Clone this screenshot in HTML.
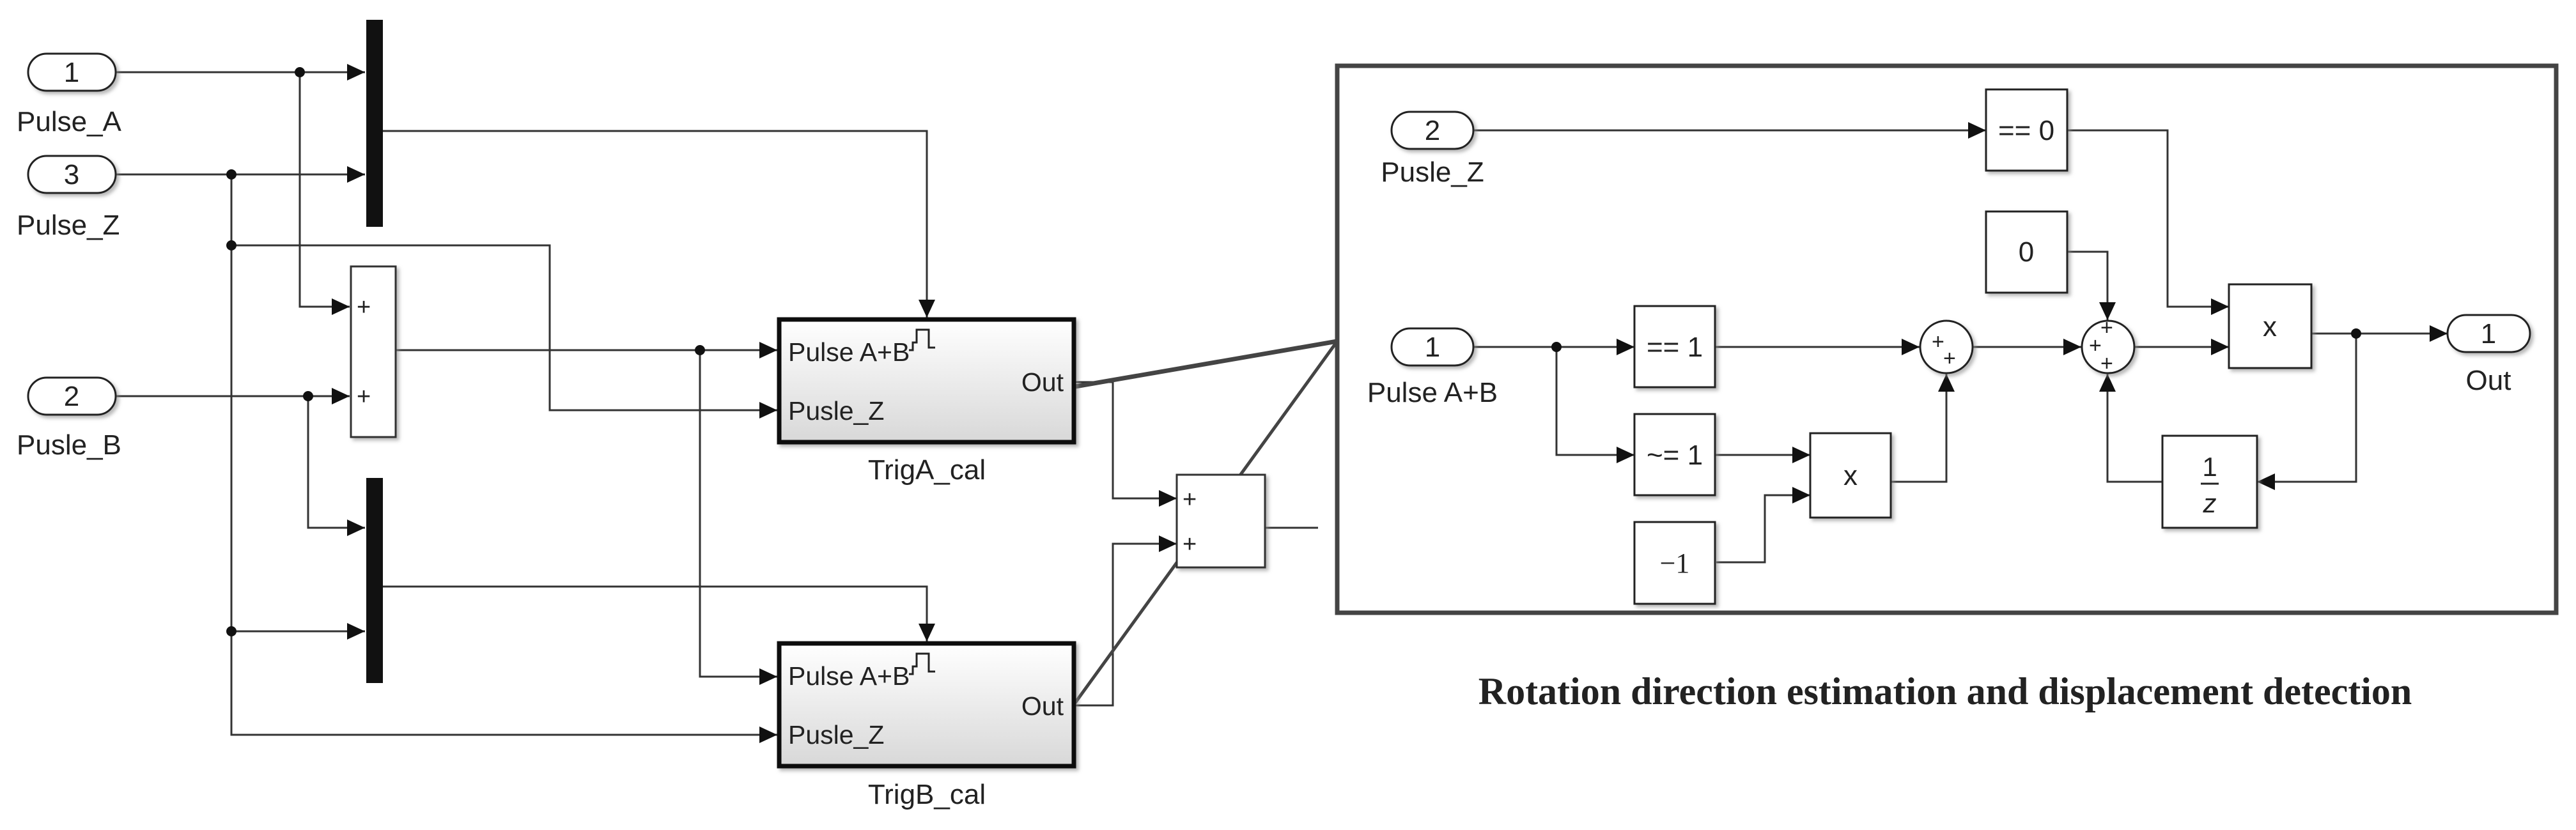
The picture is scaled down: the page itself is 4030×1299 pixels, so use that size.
<!DOCTYPE html>
<html><head><meta charset="utf-8"><style>
html,body{margin:0;padding:0;background:#fff;}
svg{display:block;}
text{font-family:"Liberation Sans",sans-serif;fill:#222;}
</style></head><body>
<svg width="4030" height="1299" viewBox="0 0 4030 1299" xmlns="http://www.w3.org/2000/svg">
<defs>
<marker id="a" markerUnits="userSpaceOnUse" markerWidth="30" markerHeight="30" refX="28" refY="13" orient="auto"><path d="M0,0 L28,13 L0,26 Z" fill="#111"/></marker>
<linearGradient id="g" x1="0" y1="0" x2="0" y2="1"><stop offset="0" stop-color="#fff"/><stop offset="1" stop-color="#d8d8d8"/></linearGradient>
<filter id="s" x="-10%" y="-10%" width="130%" height="130%"><feDropShadow dx="4" dy="4" stdDeviation="3" flood-color="#888" flood-opacity="0.6"/></filter>
</defs>
<g fill="none" stroke="#333" stroke-width="3">
<path d="M181,113 H571" marker-end="url(#a)"/>
<path d="M181,273 H571" marker-end="url(#a)"/>
<path d="M181,620 H547" marker-end="url(#a)"/>
<path d="M469,113 V480 H547" marker-end="url(#a)"/>
<path d="M362,273 V1150 H1216" marker-end="url(#a)"/>
<path d="M362,384 H860 V642 H1216" marker-end="url(#a)"/>
<path d="M362,988 H571" marker-end="url(#a)"/>
<path d="M482,620 V826 H571" marker-end="url(#a)"/>
<path d="M599,205 H1450 V497" marker-end="url(#a)"/>
<path d="M599,918 H1450 V1004" marker-end="url(#a)"/>
<path d="M619,548 H1216" marker-end="url(#a)"/>
<path d="M1095,548 V1059 H1216" marker-end="url(#a)"/>
<path d="M1682,598 H1741 V780 H1841" marker-end="url(#a)"/>
<path d="M1682,1104 H1741 V851 H1841" marker-end="url(#a)"/>
<path d="M1979,826 H2062"/>
<path d="M2305,204 H3107" marker-end="url(#a)"/>
<path d="M3234,204 H3391 V480 H3487" marker-end="url(#a)"/>
<path d="M2305,543 H2557" marker-end="url(#a)"/>
<path d="M2435,543 V712 H2557" marker-end="url(#a)"/>
<path d="M2683,543 H3003" marker-end="url(#a)"/>
<path d="M2683,712 H2832" marker-end="url(#a)"/>
<path d="M2685,880 H2761 V775 H2832" marker-end="url(#a)"/>
<path d="M2958,754 H3045 V585" marker-end="url(#a)"/>
<path d="M3085,543 H3256" marker-end="url(#a)"/>
<path d="M3234,394 H3297 V501" marker-end="url(#a)"/>
<path d="M3340,543 H3487" marker-end="url(#a)"/>
<path d="M3383,754 H3297 V585" marker-end="url(#a)"/>
<path d="M3616,522 H3829" marker-end="url(#a)"/>
<path d="M3686,522 V754 H3531" marker-end="url(#a)"/>
</g>
<path d="M1682,605 L2092,534" stroke="#444" stroke-width="7" fill="none"/>
<path d="M1682,1100 L2092,534" stroke="#444" stroke-width="5" fill="none"/>
<g fill="#111">
<circle cx="469" cy="113" r="8"/><circle cx="362" cy="273" r="8"/><circle cx="362" cy="384" r="8"/><circle cx="362" cy="988" r="8"/><circle cx="482" cy="620" r="8"/><circle cx="1095" cy="548" r="8"/>
<circle cx="2435" cy="543" r="8"/><circle cx="3686" cy="522" r="8"/>
</g>
<g stroke="#222" stroke-width="3" fill="#fff" filter="url(#s)">
<rect x="44" y="84" width="137" height="58" rx="29"/>
<rect x="44" y="244" width="137" height="58" rx="29"/>
<rect x="44" y="591" width="137" height="58" rx="29"/>
</g>
<g font-size="44" text-anchor="middle">
<text x="112" y="128">1</text><text x="112" y="288">3</text><text x="112" y="635">2</text>
</g>
<g font-size="44">
<text x="26" y="205">Pulse_A</text><text x="26" y="367">Pulse_Z</text><text x="26" y="711">Pusle_B</text>
</g>
<rect x="573" y="31" width="26" height="324" fill="#111"/>
<rect x="573" y="748" width="26" height="321" fill="#111"/>
<rect x="549" y="417" width="70" height="267" fill="#fff" stroke="#333" stroke-width="3" filter="url(#s)"/>
<g font-size="38"><text x="558" y="493">+</text><text x="558" y="633">+</text></g>
<rect x="1219" y="500" width="461" height="192" fill="url(#g)" stroke="#111" stroke-width="7" filter="url(#s)"/>
<rect x="1219" y="1007" width="461" height="192" fill="url(#g)" stroke="#111" stroke-width="7" filter="url(#s)"/>
<g font-size="41">
<text x="1233" y="565">Pulse A+B</text><text x="1233" y="657">Pusle_Z</text><text x="1664" y="612" text-anchor="end">Out</text>
<text x="1233" y="1072">Pulse A+B</text><text x="1233" y="1164">Pusle_Z</text><text x="1664" y="1119" text-anchor="end">Out</text>
<text x="1450" y="750" text-anchor="middle" font-size="44">TrigA_cal</text>
<text x="1450" y="1258" text-anchor="middle" font-size="44">TrigB_cal</text>
</g>
<g fill="none" stroke="#222" stroke-width="3">
<path d="M1422,548 h6 v-12 h6 v-20 h14 M1441,516 h12 v28 h10"/>
<path d="M1422,1055 h6 v-12 h6 v-20 h14 M1441,1023 h12 v28 h10"/>
</g>
<rect x="1841" y="743" width="138" height="145" fill="#fff" stroke="#333" stroke-width="3" filter="url(#s)"/>
<g font-size="38"><text x="1850" y="794">+</text><text x="1850" y="864">+</text></g>
<rect x="2092" y="103" width="1907" height="856" fill="none" stroke="#444" stroke-width="7"/>
<g stroke="#222" stroke-width="3" fill="#fff" filter="url(#s)">
<rect x="2177" y="175" width="128" height="58" rx="29"/>
<rect x="2177" y="514" width="128" height="58" rx="29"/>
<rect x="3829" y="493" width="129" height="58" rx="29"/>
<rect x="3107" y="140" width="127" height="127"/>
<rect x="3107" y="331" width="127" height="127"/>
<rect x="2557" y="479" width="126" height="127"/>
<rect x="2557" y="648" width="126" height="127"/>
<rect x="2557" y="817" width="126" height="128"/>
<rect x="2832" y="678" width="126" height="132"/>
<rect x="3487" y="445" width="129" height="131"/>
<rect x="3383" y="682" width="148" height="144"/>
<circle cx="3045" cy="543" r="41"/>
<circle cx="3298" cy="543" r="41"/>
</g>
<g font-size="44" text-anchor="middle">
<text x="2241" y="219">2</text><text x="2241" y="558">1</text><text x="3893" y="537">1</text>
<text x="2241" y="284">Pusle_Z</text><text x="2241" y="629">Pulse A+B</text><text x="3893" y="610">Out</text>
<text x="3170" y="219">== 0</text><text x="3170" y="409">0</text>
<text x="2620" y="558">== 1</text><text x="2620" y="727">~= 1</text>
<text x="2895" y="759">x</text><text x="3551" y="526">x</text>
</g>
<text x="2620" y="896" text-anchor="middle" font-size="44" style="font-family:'Liberation Serif',serif">−1</text>
<g text-anchor="middle" style="font-family:'Liberation Serif',serif" font-size="42">
<text x="3457" y="745">1</text><text x="3457" y="802" font-style="italic">z</text>
</g>
<line x1="3443" y1="757" x2="3471" y2="757" stroke="#222" stroke-width="3"/>
<g font-size="34">
<text x="3022" y="546">+</text><text x="3040" y="572">+</text>
<text x="3286" y="524">+</text><text x="3268" y="552">+</text><text x="3286" y="580">+</text>
</g>
<text x="3043" y="1102" text-anchor="middle" font-size="60" font-weight="bold" style="font-family:'Liberation Serif',serif">Rotation direction estimation and displacement detection</text>
</svg>
</body></html>
